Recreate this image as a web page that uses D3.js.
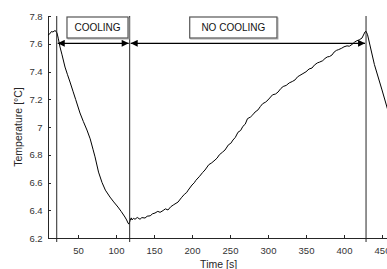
<!DOCTYPE html>
<html lang="en">
    <head>
        <meta charset="utf-8">
        <title>Cooling curve</title>
        <script type="text/javascript" src="https://cdn.jsdelivr.net/npm/d3@7"></script>
        <style type="text/css">
            body { margin: 0; background: #fff; }

            .axis path,
            .axis line {
                stroke: #262626;
                shape-rendering: crispEdges;
            }

            .axis text {
                font-family: "Liberation Sans", Arial, sans-serif;
                font-size: 9.5px;
                fill: #333;
            }

            .label {
                font-family: "Liberation Sans", Arial, sans-serif;
                font-size: 10.5px;
                fill: #262626;
            }

            .boxtext {
                font-family: "Liberation Sans", Arial, sans-serif;
                font-size: 10px;
                fill: #111;
            }
        </style>
    </head>

    <body>
        <script type="text/javascript">
            var w = 387;
            var h = 269;

            // measured time [s]
            var times = [10.5, 13, 15, 17, 19.7, 21, 22.4,
                24, 26.3, 29, 32.9, 36, 39.5, 43.4, 47, 52.6, 57, 61.8, 66, 69.7, 72.4,
                77, 81.6, 86, 92.1, 97, 102.6, 107, 111.8, 114, 115.8, 117,
                118.5, 120, 121.1, 123, 125, 128, 131.6, 134, 138.2, 141, 145, 148, 151.3,
                155, 158, 162, 165, 168.4, 172, 176, 181.6, 186, 190, 193, 195, 200, 203, 205, 210,
                214, 217.1, 222, 226, 230.3, 233, 236, 240, 243.4, 248, 251, 253.9, 257, 260.5, 264, 267, 270, 273, 277, 280,
                283, 286.8, 290, 293, 297, 300, 306, 310, 313.2, 317, 320, 324, 328, 332, 335.5, 339, 342, 346, 350, 354, 357.9, 361, 365, 368, 372,
                375, 378, 381, 384.2, 387, 390, 393, 397, 400, 404, 407, 410.5, 414, 417, 420, 423.7, 427.6, 429,
                431, 440, 450, 463];

            // measured temperature [°C]
            var temps = [7.663, 7.672, 7.688, 7.685, 7.695, 7.690, 7.677,
                7.640, 7.577, 7.52, 7.432, 7.38, 7.324, 7.258, 7.197, 7.101, 7.04, 6.978, 6.915, 6.84, 6.785,
                6.675, 6.60, 6.545, 6.495, 6.46, 6.423, 6.39, 6.351, 6.33, 6.308, 6.30,
                6.325, 6.345, 6.330, 6.342, 6.335, 6.348, 6.335, 6.347, 6.344, 6.357, 6.36, 6.374, 6.38,
                6.392, 6.385, 6.398, 6.41, 6.402, 6.425, 6.44, 6.459, 6.49, 6.515, 6.528, 6.545, 6.582, 6.598, 6.615, 6.645,
                6.672, 6.69, 6.728, 6.742, 6.762, 6.776, 6.80, 6.818, 6.834, 6.872, 6.882, 6.906, 6.925, 6.962, 6.975, 7.005, 7.02, 7.06, 7.072, 7.088,
                7.108, 7.123, 7.148, 7.168, 7.18, 7.195, 7.232, 7.238, 7.252, 7.278, 7.292, 7.30, 7.318, 7.328, 7.339, 7.362, 7.372, 7.385, 7.398, 7.418, 7.425, 7.446, 7.462, 7.468, 7.478,
                7.494, 7.505, 7.508, 7.519, 7.54, 7.552, 7.558, 7.568, 7.578, 7.585, 7.582, 7.595, 7.612, 7.622, 7.628, 7.641, 7.685, 7.69,
                7.665, 7.45, 7.267, 7.02];

            // phase boundaries [s]
            var phaseTimes = [22, 118, 429];
            var phaseLabels = ["COOLING", "NO COOLING"];

            var xTicks = [50, 100, 150, 200, 250, 300, 350, 400, 450];
            var yTicks = [6.2, 6.4, 6.6, 6.8, 7, 7.2, 7.4, 7.6, 7.8];

            var dataset = times.map(function(t, i){ return [t, temps[i]]; });

            // Scales (plot is cut off at the right edge)
            var xScale = d3.scaleLinear()
                            .domain([10, 470])
                            .range([47.6, 47.6 + 460 * 0.76]);

            var yScale = d3.scaleLinear()
                            .domain([6.2, 7.8])
                            .range([238, 16]);

            var svg = d3.select("body")
                            .append("svg")
                            .attr("width", w)
                            .attr("height", h);

            // Axes, ticks pointing inward
            var xAxis = d3.axisBottom(xScale)
                            .tickValues(xTicks)
                            .tickSizeInner(-3)
                            .tickSizeOuter(0)
                            .tickPadding(9);

            var yAxis = d3.axisLeft(yScale)
                            .tickValues(yTicks)
                            .tickFormat(d3.format("~g"))
                            .tickSizeInner(-3)
                            .tickSizeOuter(0)
                            .tickPadding(5);

            svg.append("g")
                .attr("class", "x axis")
                .attr("transform", "translate(0," + yScale(6.2) + ")")
                .call(xAxis);

            svg.append("g")
                .attr("class", "y axis")
                .attr("transform", "translate(" + xScale(10) + ",0)")
                .call(yAxis);

            // Temperature trace
            var line = d3.line()
                            .x(function(d){ return xScale(d[0]); })
                            .y(function(d){ return yScale(d[1]); });

            svg.append("path")
                .datum(dataset)
                .attr("fill", "none")
                .attr("stroke", "#000")
                .attr("stroke-width", 1)
                .attr("stroke-linejoin", "round")
                .attr("d", line);

            // Vertical phase lines
            svg.selectAll(".phase")
                .data(phaseTimes)
                .enter()
                .append("line")
                .attr("class", "phase")
                .attr("x1", function(d){ return xScale(d); })
                .attr("x2", function(d){ return xScale(d); })
                .attr("y1", yScale(7.8))
                .attr("y2", yScale(6.2) + 4)
                .attr("stroke", "#262626")
                .attr("stroke-width", 1);

            // Double headed arrows between the phase lines
            var defs = svg.append("defs");
            defs.append("marker")
                .attr("id", "head")
                .attr("viewBox", "0 0 10 10")
                .attr("refX", 10)
                .attr("refY", 5)
                .attr("markerUnits", "userSpaceOnUse")
                .attr("markerWidth", 10)
                .attr("markerHeight", 7)
                .attr("orient", "auto-start-reverse")
                .append("path")
                .attr("d", "M0,0 L10,5 L0,10 z")
                .attr("fill", "#000");

            var arrowY = yScale(7.603);
            var spans = [[phaseTimes[0], phaseTimes[1]], [phaseTimes[1], phaseTimes[2]]];

            svg.selectAll(".arrow")
                .data(spans)
                .enter()
                .append("line")
                .attr("class", "arrow")
                .attr("x1", function(d){ return xScale(d[0]) + 1; })
                .attr("x2", function(d){ return xScale(d[1]) - 1; })
                .attr("y1", arrowY)
                .attr("y2", arrowY)
                .attr("stroke", "#000")
                .attr("stroke-width", 1.2)
                .attr("marker-start", "url(#head)")
                .attr("marker-end", "url(#head)");

            // Label boxes
            var boxes = [
                {text: phaseLabels[0], x0: 35.5, x1: 115.8},
                {text: phaseLabels[1], x0: 197, x1: 311.8}
            ];
            var boxTop = 17, boxBottom = 38;

            var lab = svg.selectAll(".box")
                .data(boxes)
                .enter()
                .append("g")
                .attr("class", "box");

            lab.append("rect")
                .attr("x", function(d){ return xScale(d.x0) + 1; })
                .attr("y", boxTop + 1)
                .attr("width", function(d){ return xScale(d.x1) - xScale(d.x0); })
                .attr("height", boxBottom - boxTop)
                .attr("fill", "none")
                .attr("stroke", "#aaa")
                .attr("stroke-width", 1);

            lab.append("rect")
                .attr("x", function(d){ return xScale(d.x0); })
                .attr("y", boxTop)
                .attr("width", function(d){ return xScale(d.x1) - xScale(d.x0); })
                .attr("height", boxBottom - boxTop)
                .attr("fill", "#fff")
                .attr("stroke", "#555")
                .attr("stroke-width", 1.2);

            lab.append("text")
                .attr("class", "boxtext")
                .attr("x", function(d){ return (xScale(d.x0) + xScale(d.x1)) / 2; })
                .attr("y", (boxTop + boxBottom) / 2)
                .attr("dy", "0.35em")
                .attr("text-anchor", "middle")
                .text(function(d){ return d.text; });

            // Axis labels
            svg.append("text")
                .attr("class", "label")
                .attr("x", xScale(235))
                .attr("y", 268)
                .attr("text-anchor", "middle")
                .text("Time [s]");

            svg.append("text")
                .attr("class", "label")
                .attr("transform", "translate(22," + yScale(7) + ") rotate(-90)")
                .attr("text-anchor", "middle")
                .text("Temperature [°C]");
        </script>
    </body>
</html>
